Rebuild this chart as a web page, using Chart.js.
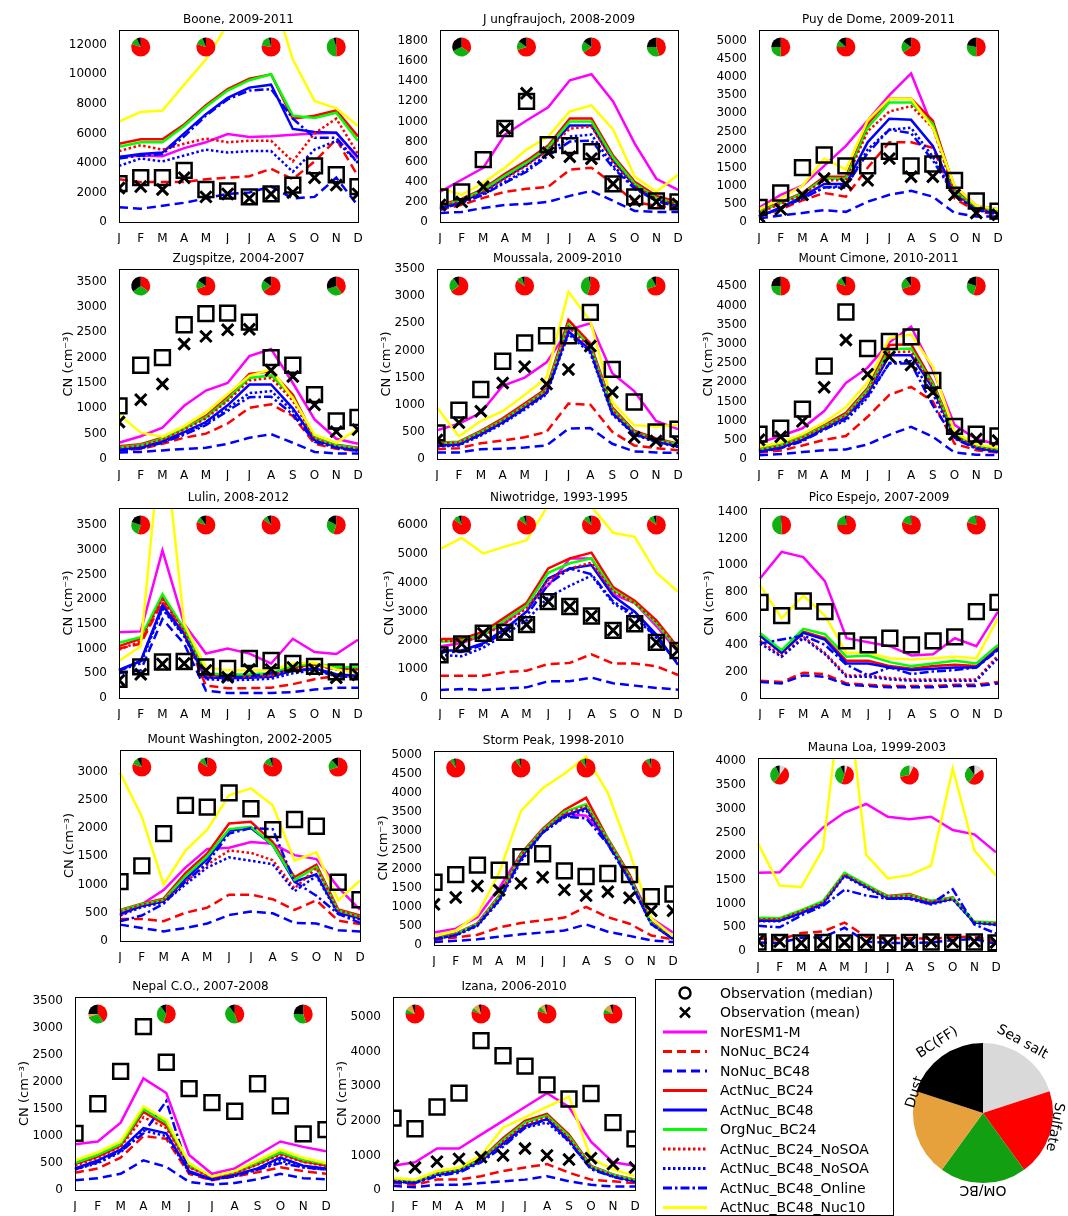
<!DOCTYPE html>
<html>
<head>
<meta charset="utf-8">
<script src="https://cdn.jsdelivr.net/npm/chart.js@4.4.1/dist/chart.umd.min.js"></script>
<style>
  body { margin: 0; background: #fff; width: 1068px; height: 1216px; overflow: hidden; position: relative; }
  canvas { position: absolute; }
</style>
</head>
<body>
<script>
const months = ['J', 'F', 'M', 'A', 'M', 'J', 'J', 'A', 'S', 'O', 'N', 'D'];
const seriesNames = ['NorESM1-M', 'NoNuc_BC24', 'NoNuc_BC48', 'ActNuc_BC24', 'ActNuc_BC48', 'OrgNuc_BC24',
    'ActNuc_BC24_NoSOA', 'ActNuc_BC48_NoSOA', 'ActNuc_BC48_Online', 'ActNuc_BC48_Nuc10'];
const obsNames = ['Observation (median)', 'Observation (mean)'];
const compNames = ['Sea salt', 'Sulfate', 'OM/BC', 'Dust', 'BC(FF)'];
const compShare = [1, 1, 1, 1, 1];
const pieMonths = [1, 4, 7, 10];
const none = [null, null, null, null, null, null, null, null, null, null, null, null];

// model lines per station, in legend order
const booneLines = [
    [4400, 4500, 4450, 5000, 5400, 5950, 5750, 5800, 5900, 6000, 6050, 4300],
    [2900, 2700, 2700, 2700, 2900, 3000, 3100, 3600, 2900, 4100, 5600, 3100],
    [1000, 900, 1100, 1300, 1600, 1900, 2000, 2400, 1600, 1700, 3000, 1100],
    [5300, 5600, 5600, 6600, 7900, 9000, 9700, 10000, 7000, 7200, 7550, 5800],
    [4400, 4600, 4700, 6000, 7300, 8400, 9100, 9300, 6300, 6100, 6050, 4400],
    [5100, 5400, 5400, 6500, 7800, 8900, 9600, 10000, 7200, 7050, 7400, 5500],
    [4800, 5200, 4900, 5300, 5650, 5400, 5500, 5500, 4100, 6000, 7000, 4600],
    [3800, 4300, 4100, 4500, 4900, 4700, 4800, 4800, 3400, 4900, 5500, 4000],
    [4300, 4500, 4600, 5800, 7200, 8300, 8900, 9000, 7000, 5700, 5700, 4000],
    [6800, 7450, 7550, 9300, 11000, 13400, 15000, 15800, 11000, 8200, 7700, 6500]
];
const booneObs = [
    [2600, 3000, 3000, 3500, 2200, 2100, 1700, 1900, 2500, 3800, 3200, 2400],
    [2300, 2400, 2200, 3000, 1700, 1900, 1600, 1900, 2000, 3000, 2500, 1900]
];
const boonePies = [[0, .80, .13, 0, .07], [0, .80, .14, 0, .06], [0, .78, .18, 0, .04], [0, .50, .45, 0, .05]];

const jungLines = [
    [300, 420, 540, 870, 1010, 1140, 1410, 1470, 1200, 780, 430, 320],
    [120, 170, 240, 300, 330, 350, 520, 540, 380, 200, 160, 140],
    [90, 100, 140, 170, 180, 200, 260, 310, 210, 110, 100, 100],
    [170, 230, 330, 480, 610, 760, 1030, 1030, 660, 400, 260, 200],
    [140, 200, 300, 440, 570, 720, 960, 960, 610, 360, 230, 170],
    [160, 220, 320, 460, 590, 740, 1000, 1000, 640, 380, 240, 180],
    [150, 210, 300, 430, 560, 720, 930, 950, 600, 360, 230, 170],
    [130, 190, 280, 400, 520, 680, 850, 870, 560, 340, 210, 150],
    [130, 190, 270, 390, 500, 660, 800, 810, 540, 330, 210, 150],
    [340, 270, 390, 540, 720, 850, 1100, 1160, 920, 450, 300, 470]
];
const jungObs = [
    [250, 300, 620, 930, 1200, 770, 760, 700, 380, 250, 210, 200],
    [170, 200, 350, 930, 1280, 690, 650, 630, 380, 210, 200, 180]
];
const jungPies = [[0, .35, .33, 0, .32], [0, .70, .15, 0, .15], [0, .65, .20, 0, .15], [0, .45, .30, 0, .25]];

const puyLines = [
    [400, 750, 1000, 1550, 2100, 2800, 3500, 4100, 2600, 1000, 450, 350],
    [150, 350, 600, 800, 700, 1500, 2200, 2200, 2050, 650, 300, 200],
    [100, 180, 250, 330, 280, 560, 750, 860, 700, 250, 150, 150],
    [300, 550, 800, 1250, 1250, 2700, 3400, 3400, 2800, 900, 400, 300],
    [150, 400, 700, 1050, 1050, 2200, 2850, 2820, 2100, 800, 350, 250],
    [280, 520, 780, 1200, 1200, 2600, 3300, 3300, 2700, 850, 380, 280],
    [250, 500, 750, 1150, 1150, 2500, 3050, 3200, 2600, 800, 360, 260],
    [150, 380, 650, 950, 950, 2000, 2550, 2600, 1800, 750, 330, 230],
    [150, 380, 650, 950, 1000, 1900, 2550, 2450, 1700, 750, 330, 230],
    [350, 650, 1000, 1750, 1450, 2800, 3400, 3400, 2600, 1000, 450, 350]
];
const puyObs = [
    [400, 800, 1500, 1850, 1550, 1550, 1950, 1550, 1600, 1150, 580, 300],
    [150, 350, 750, 1200, 1050, 1150, 1750, 1250, 1250, 750, 250, 200]
];
const puyPies = [[0, .50, .25, 0, .25], [0, .75, .12, 0, .13], [0, .65, .20, 0, .15], [0, .50, .28, 0, .22]];

const zugLines = [
    [320, 450, 620, 1050, 1350, 1500, 2030, 2170, 1500, 780, 400, 300],
    [170, 200, 300, 420, 500, 700, 1010, 1080, 850, 300, 200, 160],
    [130, 140, 170, 200, 220, 300, 420, 490, 320, 140, 110, 110],
    [250, 290, 420, 620, 850, 1220, 1680, 1730, 1270, 430, 280, 220],
    [190, 230, 350, 530, 730, 1060, 1470, 1470, 1000, 380, 240, 180],
    [230, 270, 400, 600, 820, 1180, 1600, 1650, 1220, 420, 270, 210],
    [220, 260, 380, 580, 800, 1150, 1550, 1600, 1150, 400, 250, 200],
    [180, 220, 330, 500, 700, 1000, 1300, 1340, 950, 360, 230, 170],
    [170, 210, 320, 480, 670, 950, 1220, 1230, 880, 340, 220, 160],
    [880, 520, 440, 650, 920, 1280, 1640, 1770, 1200, 480, 320, 600]
];
const zugObs = [
    [1050, 1850, 2000, 2650, 2870, 2880, 2700, 2000, 1850, 1270, 750, 820],
    [730, 1170, 1480, 2270, 2420, 2550, 2560, 1750, 1630, 1070, 540, 580]
];
const zugPies = [[0, .35, .30, 0, .35], [0, .70, .15, 0, .15], [0, .65, .20, 0, .15], [0, .40, .30, 0, .30]];

const mouLines = [
    [530, 650, 850, 1350, 1500, 1780, 2380, 2500, 1580, 1250, 700, 550],
    [180, 200, 290, 340, 400, 500, 1020, 1000, 500, 250, 200, 160],
    [120, 120, 180, 190, 210, 250, 560, 570, 280, 140, 120, 110],
    [300, 320, 520, 750, 1020, 1300, 2560, 2130, 950, 520, 380, 280],
    [250, 270, 460, 680, 950, 1230, 2350, 2010, 850, 470, 330, 240],
    [290, 310, 500, 720, 990, 1270, 2480, 2080, 920, 500, 360, 270],
    [280, 300, 490, 710, 980, 1260, 2430, 2050, 900, 490, 350, 260],
    [230, 250, 430, 650, 910, 1190, 2300, 1950, 820, 450, 310, 220],
    [240, 260, 450, 670, 930, 1210, 2330, 1980, 840, 460, 320, 230],
    [950, 420, 700, 880, 1180, 1500, 3080, 2540, 1050, 620, 600, 630]
];
const mouObs = [
    [480, 900, 1280, 1800, 2140, 2270, 2270, 2700, 1650, 1050, 500, 550],
    [350, 670, 880, 1400, 1700, 1380, 1650, 2080, 1230, 400, 330, 320]
];
const mouPies = [[0, .65, .25, 0, .10], [0, .85, .10, 0, .05], [0, .55, .42, 0, .03], [0, .70, .22, 0, .08]];

const cimLines = [
    [420, 600, 800, 1250, 1980, 2380, 3040, 3450, 2320, 890, 520, 380],
    [170, 220, 350, 500, 600, 1100, 1670, 1880, 1500, 400, 230, 170],
    [100, 130, 180, 230, 250, 380, 630, 840, 580, 170, 110, 100],
    [270, 380, 600, 880, 1200, 1850, 2970, 2990, 2000, 650, 350, 260],
    [200, 300, 500, 800, 1100, 1700, 2700, 2700, 1850, 580, 290, 200],
    [250, 360, 570, 850, 1150, 1800, 2860, 2880, 1950, 630, 330, 240],
    [230, 340, 550, 830, 1130, 1750, 2780, 2800, 1900, 600, 310, 220],
    [190, 290, 480, 780, 1000, 1600, 2500, 2550, 1700, 550, 280, 190],
    [180, 280, 460, 760, 1050, 1650, 2490, 2490, 1400, 530, 270, 180],
    [320, 430, 650, 950, 1350, 2000, 3150, 3240, 2400, 700, 380, 300]
];
const cimObs = [
    [650, 800, 1300, 2420, 3830, 2880, 3060, 3180, 2050, 850, 650, 600],
    [500, 580, 980, 1870, 3100, 2210, 2660, 2450, 1740, 640, 520, 480]
];
const cimPies = [[0, .50, .25, 0, .25], [0, .80, .12, 0, .08], [0, .70, .20, 0, .10], [0, .55, .25, 0, .20]];

const lulLines = [
    [1330, 1350, 2990, 1500, 900, 1000, 900, 700, 1200, 930, 890, 1180],
    [1000, 1100, 1950, 1300, 250, 200, 200, 210, 280, 380, 450, 430],
    [500, 560, 1600, 1100, 150, 100, 100, 100, 120, 170, 210, 210],
    [1050, 1200, 2050, 1380, 480, 440, 460, 480, 630, 680, 600, 600],
    [570, 750, 1880, 1300, 420, 400, 410, 430, 550, 600, 480, 450],
    [1120, 1230, 2100, 1400, 500, 470, 480, 500, 650, 700, 630, 620],
    [980, 1150, 2000, 1350, 450, 420, 430, 450, 600, 660, 580, 580],
    [560, 700, 1800, 1250, 380, 360, 370, 390, 500, 560, 440, 420],
    [550, 750, 1830, 1270, 400, 420, 430, 500, 560, 580, 450, 420],
    [750, 1050, 5600, 1500, 620, 560, 560, 560, 700, 720, 580, 500]
];
const lulObs = [
    [380, 630, 730, 740, 630, 600, 800, 760, 700, 640, 530, 530],
    [360, 480, 690, 700, 560, 420, 580, 580, 620, 580, 410, 470]
];
const lulPies = [[0, .55, .25, 0, .20], [0, .80, .10, 0, .10], [0, .85, .08, 0, .07], [0, .55, .28, 0, .17]];

const niwLines = [
    [1800, 1900, 2200, 2600, 3200, 3900, 4850, 4850, 3600, 3300, 2500, 1600],
    [770, 770, 770, 900, 950, 1180, 1220, 1520, 1200, 1200, 1100, 800],
    [280, 310, 280, 330, 370, 580, 580, 710, 510, 430, 350, 290],
    [2050, 2050, 2300, 2800, 3300, 4500, 4850, 5050, 3850, 3380, 2700, 1750],
    [1650, 1650, 1900, 2400, 3000, 4150, 4500, 4620, 3550, 3000, 2200, 1150],
    [1950, 2000, 2200, 2700, 3200, 4350, 4680, 4850, 3750, 3300, 2600, 1700],
    [2000, 1950, 2150, 2600, 3100, 4100, 4500, 4700, 3700, 3300, 2650, 1750],
    [1500, 1450, 1750, 2200, 2700, 3500, 3900, 4250, 3300, 2800, 2100, 1200],
    [1600, 1600, 1850, 2300, 2850, 3950, 4500, 4300, 3350, 2900, 2100, 1200],
    [5170, 5560, 5020, 5260, 5480, 6700, 7000, 6650, 5740, 5600, 4350, 3690]
];
const niwObs = [
    [1500, 1880, 2250, 2280, 2550, 3350, 3180, 2850, 2350, 2580, 1930, 1650],
    [1500, 1880, 2250, 2280, 2550, 3350, 3180, 2850, 2350, 2580, 1930, 1650]
];
const niwPies = [[0, .85, .10, 0, .05], [0, .85, .10, 0, .05], [0, .85, .10, 0, .05], [0, .85, .10, 0, .05]];

const picLines = [
    [900, 1100, 1060, 880, 450, 420, 390, 320, 330, 450, 390, 650],
    [130, 120, 190, 180, 110, 100, 90, 90, 90, 100, 100, 120],
    [120, 110, 170, 160, 100, 90, 80, 80, 80, 90, 90, 110],
    [470, 340, 500, 450, 280, 280, 240, 220, 240, 250, 240, 380],
    [470, 340, 490, 440, 260, 260, 230, 210, 220, 230, 230, 370],
    [490, 360, 520, 480, 310, 320, 270, 240, 260, 280, 260, 400],
    [430, 320, 460, 340, 170, 170, 150, 140, 140, 140, 140, 320],
    [410, 310, 450, 330, 160, 160, 140, 130, 130, 130, 130, 300],
    [410, 440, 470, 400, 250, 170, 230, 180, 200, 210, 230, 360],
    [850, 600, 770, 620, 340, 340, 300, 290, 300, 310, 300, 600]
];
const picObs = [
    [720, 620, 730, 650, 430, 400, 450, 400, 430, 460, 650, 720],
    none
];
const picPies = [[0, .50, .48, 0, .02], [0, .75, .22, 0, .03], [0, .80, .18, 0, .02], [0, .80, .18, 0, .02]];

const wasLines = [
    [450, 650, 900, 1300, 1630, 1650, 1750, 1720, 1520, 1450, 950, 550],
    [390, 390, 350, 500, 590, 820, 820, 740, 550, 720, 360, 300],
    [290, 230, 170, 230, 310, 460, 520, 490, 320, 310, 190, 170],
    [550, 660, 750, 1200, 1550, 2080, 2110, 1750, 1130, 1350, 560, 450],
    [480, 620, 700, 1100, 1450, 1950, 2000, 1700, 1050, 1180, 500, 400],
    [540, 650, 730, 1150, 1500, 1980, 2020, 1700, 1080, 1310, 540, 430],
    [520, 640, 720, 1050, 1350, 1600, 1560, 1430, 930, 1290, 540, 420],
    [450, 600, 680, 1000, 1300, 1480, 1420, 1360, 880, 1150, 480, 380],
    [350, 450, 660, 1050, 1380, 1900, 2000, 1980, 1050, 800, 480, 320],
    [2980, 2200, 1000, 1600, 1970, 2580, 2700, 2400, 1420, 1570, 720, 1070]
];
const wasObs = [
    [1050, 1330, 1900, 2400, 2370, 2620, 2340, 1970, 2150, 2030, 1040, 730],
    none
];
const wasPies = [[0, .80, .12, 0, .08], [0, .85, .10, 0, .05], [0, .82, .13, 0, .05], [0, .70, .18, 0, .12]];

const stoLines = [
    [330, 430, 730, 1500, 2400, 3000, 3450, 3400, 2750, 1800, 700, 330],
    [130, 200, 270, 460, 580, 650, 720, 1000, 730, 560, 250, 150],
    [80, 110, 150, 220, 280, 330, 380, 540, 350, 240, 120, 80],
    [180, 300, 570, 1300, 2400, 3050, 3550, 3870, 2800, 1850, 600, 200],
    [160, 270, 530, 1200, 2300, 3000, 3400, 3600, 2700, 1750, 560, 170],
    [170, 290, 560, 1280, 2370, 3020, 3500, 3700, 2780, 1800, 580, 190],
    [170, 280, 550, 1250, 2350, 3000, 3450, 3650, 2750, 1780, 570, 180],
    [150, 250, 500, 1150, 2200, 2950, 3350, 3550, 2650, 1700, 540, 160],
    [150, 260, 520, 1180, 2250, 2950, 3380, 3330, 2650, 1700, 550, 160],
    [230, 380, 800, 1900, 3520, 4120, 4500, 4950, 4000, 2450, 700, 230]
];
const stoObs = [
    [1650, 1850, 2100, 1970, 2320, 2400, 1950, 1800, 1880, 1850, 1270, 1340],
    [1070, 1250, 1550, 1440, 1620, 1780, 1450, 1300, 1400, 1240, 900, 900]
];
const stoPies = [[0, .90, .07, 0, .03], [0, .90, .07, 0, .03], [0, .90, .07, 0, .03], [0, .90, .07, 0, .03]];

const mauLines = [
    [1650, 1660, 2150, 2600, 2920, 3100, 2830, 2780, 2830, 2550, 2460, 2080],
    [260, 240, 380, 410, 600, 300, 270, 270, 260, 290, 300, 200],
    [180, 170, 280, 290, 490, 200, 170, 170, 180, 230, 250, 150],
    [680, 680, 850, 1030, 1630, 1380, 1160, 1200, 1050, 1130, 600, 590],
    [640, 640, 800, 1000, 1600, 1350, 1120, 1120, 1000, 1100, 600, 560],
    [700, 690, 860, 1050, 1650, 1400, 1150, 1180, 1060, 1120, 620, 600],
    [670, 670, 840, 1020, 1620, 1370, 1140, 1170, 1040, 1110, 610, 580],
    [630, 630, 790, 980, 1580, 1330, 1100, 1100, 980, 1090, 590, 550],
    [530, 500, 750, 950, 1290, 1170, 1100, 1100, 990, 1300, 560, 370],
    [2270, 1380, 1350, 2150, 6000, 2030, 1530, 1600, 1800, 3850, 2120, 1590]
];
const mauObs = [
    [190, 180, 170, 180, 170, 180, 170, 180, 190, 180, 190, 170],
    [210, 200, 170, 180, 180, 180, 170, 190, 200, 190, 200, 180]
];
const mauPies = [[.10, .50, .33, 0, .07], [.05, .50, .38, 0, .07], [.07, .65, .28, 0, 0], [.15, .45, .30, 0, .10]];

const nepLines = [
    [850, 900, 1250, 2070, 1800, 650, 300, 400, 650, 900, 800, 720],
    [320, 400, 600, 1000, 950, 300, 180, 250, 330, 420, 350, 300],
    [180, 220, 300, 550, 430, 150, 100, 130, 200, 300, 220, 200],
    [480, 620, 820, 1450, 1200, 430, 240, 320, 480, 680, 530, 460],
    [400, 550, 750, 1150, 1050, 350, 200, 280, 400, 600, 450, 400],
    [500, 650, 850, 1500, 1250, 450, 250, 330, 500, 700, 550, 480],
    [450, 600, 800, 1350, 1150, 420, 230, 310, 470, 650, 520, 440],
    [380, 500, 700, 1100, 1000, 330, 190, 260, 380, 550, 420, 380],
    [380, 520, 720, 1050, 1650, 330, 190, 260, 380, 500, 420, 380],
    [550, 700, 900, 1550, 1300, 500, 250, 350, 550, 750, 600, 500]
];
const nepObs = [
    [1050, 1600, 2200, 3030, 2370, 1880, 1620, 1460, 1970, 1560, 1040, 1120],
    none
];
const nepPies = [[0, .40, .30, .05, .25], [0, .55, .35, 0, .10], [0, .45, .45, 0, .10], [0, .45, .30, 0, .25]];

const izaLines = [
    [700, 800, 1200, 1200, 1600, 2000, 2400, 2800, 2400, 1400, 800, 700],
    [200, 150, 300, 300, 400, 550, 650, 750, 500, 300, 250, 200],
    [120, 80, 150, 150, 200, 250, 300, 400, 250, 150, 100, 100],
    [300, 250, 500, 600, 900, 1500, 2000, 2200, 1600, 700, 450, 300],
    [250, 220, 450, 550, 850, 1350, 1850, 2050, 1450, 650, 400, 250],
    [290, 240, 490, 590, 880, 1450, 1950, 2150, 1550, 680, 440, 290],
    [270, 230, 470, 570, 860, 1400, 1900, 2100, 1500, 660, 420, 270],
    [240, 210, 430, 540, 830, 1300, 1800, 1950, 1400, 620, 390, 240],
    [230, 200, 400, 500, 800, 1250, 1800, 2050, 1400, 600, 380, 230],
    [350, 300, 550, 650, 1000, 1800, 2100, 2400, 2700, 900, 600, 400]
];
const izaObs = [
    [2080, 1770, 2400, 2800, 4320, 3880, 3580, 3040, 2630, 2790, 1950, 1480],
    [700, 650, 820, 900, 950, 1000, 1200, 1000, 880, 920, 750, 650]
];
const izaPies = [[0, .75, .08, .12, .05], [0, .80, .06, .10, .04], [0, .80, .08, .08, .04], [0, .75, .08, .12, .05]];

const FONT = 'DejaVu Sans';
const lineStyles = [
    { color: '#ff00ff', dash: [] },
    { color: '#ff0000', dash: [9, 5] },
    { color: '#0000ff', dash: [9, 5] },
    { color: '#ff0000', dash: [] },
    { color: '#0000ff', dash: [] },
    { color: '#00ff00', dash: [] },
    { color: '#ff0000', dash: [2.5, 2.5] },
    { color: '#0000ff', dash: [2.5, 2.5] },
    { color: '#0000ff', dash: [9, 3, 2.5, 3] },
    { color: '#ffff00', dash: [] }
];
const compColors = ['#d9d9d9', '#ff0000', '#10b010', '#e6a03c', '#000000'];

// small composition pies drawn at given months near the top of the plot
const piePlugin = {
    id: 'pies',
    afterDatasetsDraw(chart, args, opts) {
        if (!opts.parts) return;
        const ctx = chart.ctx, area = chart.chartArea, xs = chart.scales.x;
        ctx.save();
        opts.parts.forEach(function(parts, k) {
            const x = xs.getPixelForValue(pieMonths[k]);
            const y = area.top + 17;
            let a = -Math.PI / 2;
            parts.forEach(function(f, i) {
                if (!f) return;
                ctx.beginPath();
                ctx.moveTo(x, y);
                ctx.arc(x, y, 9.5, a, a + f * 2 * Math.PI);
                ctx.closePath();
                ctx.fillStyle = compColors[i];
                ctx.fill();
                a += f * 2 * Math.PI;
            });
        });
        ctx.restore();
    }
};

const framePlugin = {
    id: 'frame',
    afterDraw(chart) {
        const ctx = chart.ctx, a = chart.chartArea;
        ctx.save();
        ctx.strokeStyle = '#000';
        ctx.lineWidth = 1;
        ctx.strokeRect(Math.round(a.left) + 0.5, Math.round(a.top) + 0.5, Math.round(a.right - a.left), Math.round(a.bottom - a.top));
        ctx.restore();
    }
};

function panel(title, lines, obs, pies, yMax, step, ylab, l, t, r, b) {
    const yw = 58, th = 24, xh = 22, rp = 8;
    const c = document.createElement('canvas');
    c.width = r - l + yw + rp;
    c.height = b - t + th + xh;
    c.style.left = (l - yw) + 'px';
    c.style.top = (t - th) + 'px';
    document.body.appendChild(c);

    const datasets = seriesNames.map(function(name, i) {
        return {
            label: name, data: lines[i],
            borderColor: lineStyles[i].color, borderDash: lineStyles[i].dash,
            borderWidth: 2.5, pointRadius: 0, fill: false, tension: 0,
            order: 20 - i
        };
    });
    datasets.push({
        label: obsNames[0], data: obs[0], showLine: false,
        pointStyle: 'rect', pointRadius: 10.5, pointBorderWidth: 2.5,
        pointBorderColor: '#000', pointBackgroundColor: 'rgba(0,0,0,0)',
        borderColor: '#000', clip: 0, order: 2
    });
    datasets.push({
        label: obsNames[1], data: obs[1], showLine: false,
        pointStyle: 'crossRot', pointRadius: 8, pointBorderWidth: 3,
        pointBorderColor: '#000', borderColor: '#000', clip: 0, order: 1
    });

    new Chart(c, {
        type: 'line',
        data: { labels: months, datasets: datasets },
        options: {
            responsive: false,
            animation: false,
            events: [],
            layout: { padding: { right: rp } },
            plugins: {
                legend: { display: false },
                tooltip: { enabled: false },
                title: {
                    display: true, text: title, color: '#000', fullSize: false,
                    font: { size: 12, family: FONT, weight: 'normal' },
                    padding: { top: 6.8, bottom: 2.8 }
                },
                pies: { parts: pies }
            },
            scales: {
                x: {
                    grid: { display: false }, border: { display: false },
                    ticks: { color: '#000', font: { size: 12, family: FONT }, padding: 2, maxRotation: 0, autoSkip: false },
                    afterFit(s) { s.height = xh; }
                },
                y: {
                    min: 0, max: yMax,
                    grid: { display: false }, border: { display: false },
                    ticks: {
                        color: '#000', font: { size: 12, family: FONT }, padding: 4,
                        callback: function(v) { return String(v); }
                    },
                    afterBuildTicks(s) {
                        const ticks = [];
                        for (let v = 0; v <= yMax + 1e-6; v += step) ticks.push({ value: v });
                        s.ticks = ticks;
                    },
                    title: { display: ylab, text: 'CN (cm⁻³)', color: '#000', font: { size: 13, family: FONT }, padding: 0 },
                    afterFit(s) { s.width = yw; }
                }
            }
        },
        plugins: [piePlugin, framePlugin]
    });
}

panel('Boone, 2009-2011', booneLines, booneObs, boonePies, 13000, 2000, false, 119, 30, 363, 222);
panel('J ungfraujoch, 2008-2009', jungLines, jungObs, jungPies, 1910, 200, false, 440, 30, 683, 222);
panel('Puy de Dome, 2009-2011', puyLines, puyObs, puyPies, 5300, 500, false, 759, 30, 1003, 222);
panel('Zugspitze, 2004-2007', zugLines, zugObs, zugPies, 3750, 500, true, 119, 269, 363, 459);
panel('Moussala, 2009-2010', mouLines, mouObs, mouPies, 3500, 500, true, 437, 269, 683, 459);
panel('Mount Cimone, 2010-2011', cimLines, cimObs, cimPies, 4950, 500, true, 759, 269, 1003, 459);
panel('Lulin, 2008-2012', lulLines, lulObs, lulPies, 3850, 500, true, 119, 508, 363, 698);
panel('Niwotridge, 1993-1995', niwLines, niwObs, niwPies, 6600, 1000, true, 440, 508, 683, 698);
panel('Pico Espejo, 2007-2009', picLines, picObs, picPies, 1430, 200, true, 760, 508, 1003, 698);
panel('Mount Washington, 2002-2005', wasLines, wasObs, wasPies, 3380, 500, true, 120, 750, 365, 941);
panel('Storm Peak, 1998-2010', stoLines, stoObs, stoPies, 5100, 500, true, 434, 751, 678, 945);
panel('Mauna Loa, 1999-2003', mauLines, mauObs, mauPies, 4070, 500, false, 758, 758, 1001, 951);
panel('Nepal C.O., 2007-2008', nepLines, nepObs, nepPies, 3580, 500, true, 75, 997, 331, 1190);
panel('Izana, 2006-2010', izaLines, izaObs, izaPies, 5580, 1000, true, 393, 997, 640, 1190);

// legend box
const legendPlugin = {
    id: 'legendBox',
    afterDraw(chart) {
        const ctx = chart.ctx;
        ctx.save();
        ctx.strokeStyle = '#000';
        ctx.lineWidth = 1;
        ctx.strokeRect(0.5, 0.5, chart.width - 1, chart.height - 1);
        ctx.font = '14px "' + FONT + '"';
        ctx.textBaseline = 'middle';
        ctx.fillStyle = '#000';
        chart.data.datasets.forEach(function(d, i) {
            const y = 14 + i * 19.5;
            ctx.lineWidth = d.borderWidth;
            ctx.strokeStyle = d.borderColor;
            if (d.marker === 'circle') {
                ctx.setLineDash([]);
                ctx.beginPath();
                ctx.arc(30, y, 5.5, 0, 2 * Math.PI);
                ctx.stroke();
            } else if (d.marker === 'cross') {
                ctx.setLineDash([]);
                ctx.beginPath();
                ctx.moveTo(25, y - 5); ctx.lineTo(35, y + 5);
                ctx.moveTo(25, y + 5); ctx.lineTo(35, y - 5);
                ctx.stroke();
            } else {
                ctx.setLineDash(d.borderDash);
                ctx.beginPath();
                ctx.moveTo(8, y); ctx.lineTo(52, y);
                ctx.stroke();
            }
            ctx.setLineDash([]);
            ctx.fillText(d.label, 65, y + 1);
        });
        ctx.restore();
    }
};
const lc = document.createElement('canvas');
lc.width = 239; lc.height = 237;
lc.style.left = '655px'; lc.style.top = '979px';
document.body.appendChild(lc);
const legendSets = [
    { label: obsNames[0], data: [], marker: 'circle', borderColor: '#000', borderWidth: 2.5, borderDash: [] },
    { label: obsNames[1], data: [], marker: 'cross', borderColor: '#000', borderWidth: 2.5, borderDash: [] }
].concat(seriesNames.map(function(name, i) {
    return { label: name, data: [], borderColor: lineStyles[i].color, borderDash: lineStyles[i].dash, borderWidth: 3 };
}));
new Chart(lc, {
    type: 'line',
    data: { labels: [], datasets: legendSets },
    options: {
        responsive: false, animation: false, events: [],
        plugins: { legend: { display: false }, tooltip: { enabled: false } },
        scales: { x: { display: false }, y: { display: false } }
    },
    plugins: [legendPlugin]
});

// composition key pie
const pieLabelAngles = [29, 101, 180, 287, 327];
const pieLabelRadii = [81, 73, 77, 71, 84];
const pieLabelPlugin = {
    id: 'pieLabels',
    afterDraw(chart) {
        const ctx = chart.ctx;
        const arc = chart.getDatasetMeta(0).data[0];
        const cx = arc.x, cy = arc.y;
        ctx.save();
        ctx.font = '14px "' + FONT + '"';
        ctx.fillStyle = '#000';
        ctx.textAlign = 'center';
        ctx.textBaseline = 'middle';
        chart.data.labels.forEach(function(txt, i) {
            const th = pieLabelAngles[i] * Math.PI / 180;
            const R = pieLabelRadii[i];
            ctx.save();
            ctx.translate(cx + R * Math.sin(th), cy - R * Math.cos(th));
            ctx.rotate(th);
            ctx.fillText(txt, 0, 0);
            ctx.restore();
        });
        ctx.restore();
    }
};
const pc = document.createElement('canvas');
pc.width = 220; pc.height = 220;
pc.style.left = '873px'; pc.style.top = '1003px';
document.body.appendChild(pc);
new Chart(pc, {
    type: 'pie',
    data: { labels: compNames, datasets: [{ data: compShare, backgroundColor: compColors.map(function(c, i) { return i === 2 ? '#12a012' : c; }), borderWidth: 0 }] },
    options: {
        responsive: false, animation: false, events: [],
        layout: { padding: 40 },
        plugins: { legend: { display: false }, tooltip: { enabled: false } }
    },
    plugins: [pieLabelPlugin]
});
</script>
</body>
</html>
